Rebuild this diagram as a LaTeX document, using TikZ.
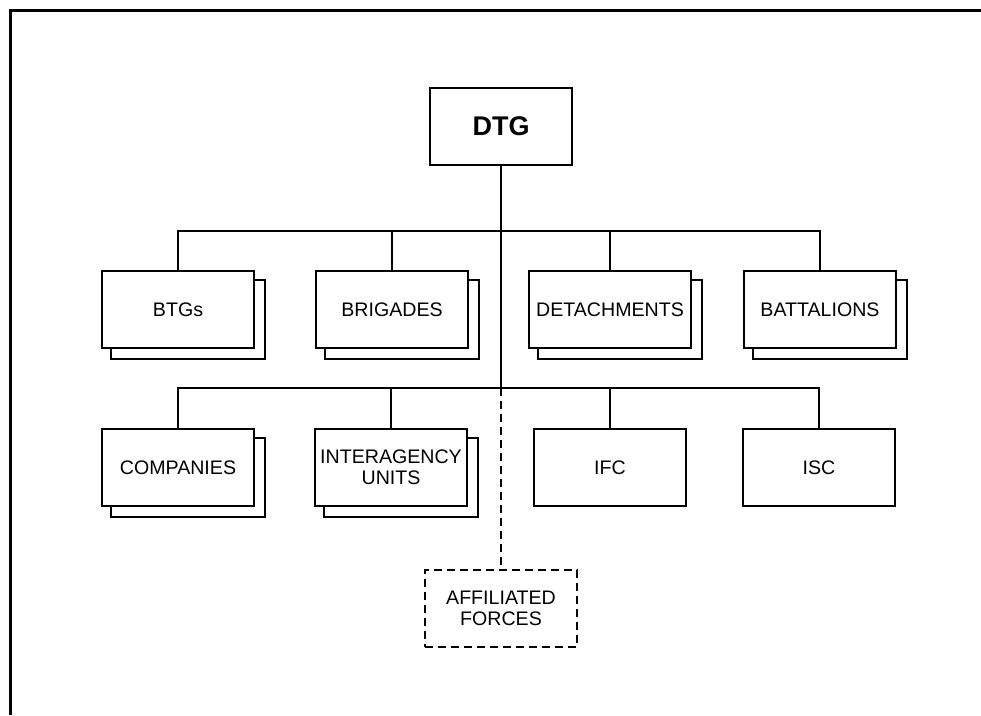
\documentclass[tikz,border=0pt]{standalone}
\usepackage{fontspec}
\setmainfont{Liberation Sans}
\usetikzlibrary{backgrounds}
\tikzset{
  unit/.style={draw, fill=white, line width=1.4pt, minimum width=114pt, minimum height=57.75pt, inner sep=1pt, align=center, font=\fontsize{14.7}{16}\selectfont},
  conn/.style={line width=1.4pt},
  dconn/.style={line width=1.4pt, dash pattern=on 6pt off 3.75pt},
  shadowbox/.style={draw, fill=white, line width=1.4pt},
}
\newcommand{\stackshadow}[1]{%
  \draw[shadowbox] ([shift={(10,10)}]#1.north west) rectangle ([shift={(10,10)}]#1.south east);}
\begin{document}
\begin{tikzpicture}[x=0.75pt, y=-0.75pt]
\useasboundingbox (0,0) rectangle (981,715);
% frame
\draw[line width=2.25pt] (10.5,715) -- (10.5,10.5) -- (981,10.5);

% top
\node[unit, minimum width=106.5pt, font=\fontsize{20.25}{22}\selectfont\bfseries] (dtg) at (501,126.5) {DTG};

% row 1
\node[unit] (btg) at (178,309.5) {BTGs};
\node[unit] (brig) at (392,309.5) {BRIGADES};
\node[unit, minimum width=121.5pt] (det) at (610,309.5) {DETACHMENTS};
\node[unit] (bat) at (820,309.5) {BATTALIONS};

% row 2
\node[unit] (comp) at (178,467.5) {COMPANIES};
\node[unit] (inter) at (391,467.5) {INTERAGENCY\\UNITS};
\node[unit] (ifc) at (610,467.5) {IFC};
\node[unit] (isc) at (819,467.5) {ISC};

% affiliated
\node[unit, dconn] (aff) at (501,608.5) {AFFILIATED\\FORCES};

\begin{scope}[on background layer]
  \stackshadow{btg}
  \stackshadow{brig}
  \stackshadow{det}
  \stackshadow{bat}
  \stackshadow{comp}
  \stackshadow{inter}
\end{scope}

\coordinate (j1) at (501,231);
\coordinate (j2) at (501,388);

% connectors
\draw[conn] (dtg.south) -- (j2);
\draw[conn] (btg.north) |- (j1) -| (bat.north);
\draw[conn] (brig.north) -- (brig.north |- j1);
\draw[conn] (det.north) -- (det.north |- j1);
\draw[conn] (comp.north) |- (j2) -| (isc.north);
\draw[conn] (inter.north) -- (inter.north |- j2);
\draw[conn] (ifc.north) -- (ifc.north |- j2);
\draw[dconn] (j2) -- (aff.north);
\end{tikzpicture}
\end{document}
